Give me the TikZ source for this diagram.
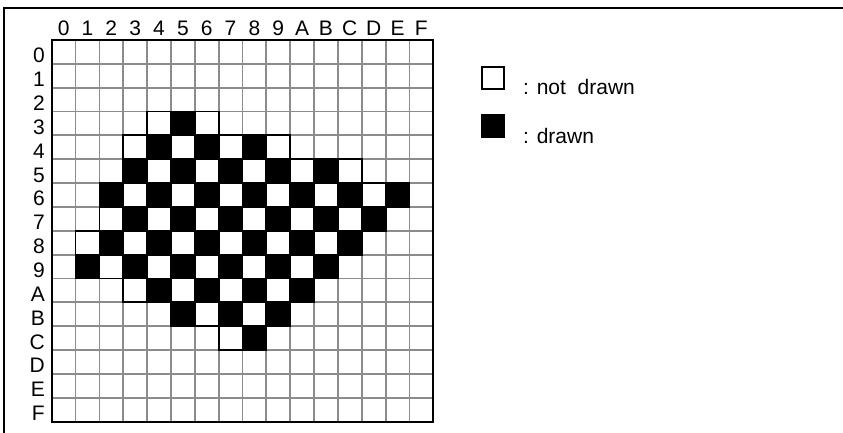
\documentclass[tikz,border=0pt]{standalone}
\usepackage{fontspec}
\setmainfont{Liberation Sans}

\begin{document}
\begin{tikzpicture}[x=1pt,y=-1pt,
  every node/.style={font=\fontsize{21}{25}\selectfont,inner sep=0pt},
  gridline/.style={draw=black!45,line width=1.8pt},
  cellbox/.style={draw=black,line width=1.8pt},
  pix0/.style={fill=black},
  pix1/.style={fill=white}]
  \useasboundingbox (0,0) rectangle (843,433);
  \draw[line width=1.8pt] (4,433) -- (4,8) -- (843,8);
  \begin{scope}[shift={(51.7,40)},x=23.85pt,y=-23.85pt]
    \foreach \k in {1,...,15} {
      \draw[gridline] (\k,0) -- (\k,16);
      \draw[gridline] (0,\k) -- (16,\k);
    }
    % cells of the shape, drawn when row+column is even
    \foreach \r/\first/\last in {3/4/6,4/3/9,5/3/12,6/2/14,7/2/13,
                                 8/1/12,9/1/11,10/3/10,11/5/9,12/7/8}
      \foreach \c in {\first,...,\last} {
        \pgfmathtruncatemacro\odd{mod(\r+\c,2)}
        \draw[cellbox,pix\odd] (\c,\r) rectangle ++(1,1);
      }
    \draw[line width=2pt] (0,0) rectangle (16,16);
    \foreach \lbl [count=\i from 0] in {0,1,2,3,4,5,6,7,8,9,A,B,C,D,E,F} {
      \node[anchor=base] (col\lbl) at (\i+0.5,-0.17) {\lbl};
      \node[anchor=base east] (row\lbl) at (-0.28,\i+0.96) {\lbl};
    }
    % legend
    \node[cellbox,pix1,minimum size=22pt] (offkey) at (18.5,1.6) {};
    \node[cellbox,pix0,minimum size=22pt] (onkey) at (18.5,3.6) {};
    \node[anchor=base west] (offtext) at (19.76,2.3) {: not\ \ drawn};
    \node[anchor=base west] (ontext) at (19.76,4.32) {: drawn};
  \end{scope}
\end{tikzpicture}
\end{document}
